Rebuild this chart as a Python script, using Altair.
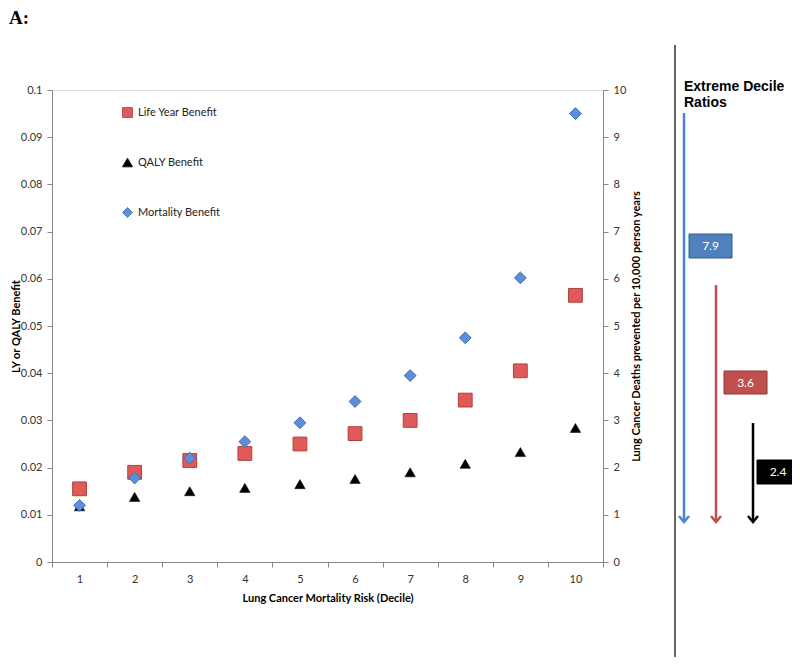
import altair as alt
import pandas as pd

# ---- data ----
deciles = [1, 2, 3, 4, 5, 6, 7, 8, 9, 10]
life_year = [0.0155, 0.0190, 0.0215, 0.0230, 0.0250, 0.0272, 0.0300, 0.0343, 0.0405, 0.0565]
qaly = [0.0118, 0.0138, 0.0150, 0.0157, 0.0165, 0.0176, 0.0190, 0.0208, 0.0233, 0.0284]
mortality = [1.20, 1.78, 2.20, 2.55, 2.95, 3.40, 3.95, 4.75, 6.02, 9.50]

series_names = ["Life Year Benefit", "QALY Benefit", "Mortality Benefit"]
series_fill = ["#E05A5A", "#000000", "#5B8FD8"]
series_stroke = ["#B23E3E", "#000000", "#3D6FB5"]
series_shape = ["square", "triangle-up", "diamond"]

left_ticks = [0, 0.01, 0.02, 0.03, 0.04, 0.05, 0.06, 0.07, 0.08, 0.09, 0.1]
right_ticks = [0, 1, 2, 3, 4, 5, 6, 7, 8, 9, 10]

panel_title = "Extreme Decile Ratios"
ratio_labels = ["7.9", "3.6", "2.4"]
ratio_fill = ["#4F81BD", "#C0504D", "#000000"]
ratio_stroke = ["#385D8A", "#8C3836", "#000000"]
arrow_color = ["#4A86D0", "#C0504D", "#000000"]

FONT = "Lato"
W, H = 551, 472

ly_df = pd.DataFrame({"decile": deciles, "value": life_year, "series": series_names[0]})
q_df = pd.DataFrame({"decile": deciles, "value": qaly, "series": series_names[1]})
m_df = pd.DataFrame({"decile": deciles, "value": mortality, "series": series_names[2]})

x_enc = alt.X(
    "decile:O",
    scale=alt.Scale(paddingInner=0, paddingOuter=0),
    axis=alt.Axis(
        title="Lung Cancer Mortality Risk (Decile)",
        labelAngle=0,
        tickBand="extent",
        domainColor="#868686",
        tickColor="#868686",
        tickSize=5,
        labelPadding=6,
        labelFont=FONT,
        labelFontSize=11,
        labelColor="#333333",
        titleFont=FONT,
        titleFontSize=11,
        titleFontWeight="bold",
        titleColor="#000000",
        titlePadding=8,
    ),
)

color_enc = alt.Color(
    "series:N",
    scale=alt.Scale(domain=series_names, range=series_fill),
    legend=alt.Legend(
        title=None,
        orient="none",
        legendX=70,
        legendY=17,
        rowPadding=36,
        symbolSize=100,
        labelFont=FONT,
        labelFontSize=11,
        labelColor="#222222",
        labelOffset=5,
        symbolStrokeWidth=0.8,
    ),
)
shape_enc = alt.Shape("series:N", scale=alt.Scale(domain=series_names, range=series_shape))
stroke_enc = alt.Stroke("series:N", scale=alt.Scale(domain=series_names, range=series_stroke))

left_axis = alt.Axis(
    values=left_ticks,
    format="~g",
    grid=False,
    title="LY or QALY Benefit",
    titleX=-31,
    titleY=236,
    titleAngle=270,
    titleAlign="center",
    titleBaseline="bottom",
    domainColor="#868686",
    tickColor="#868686",
    tickSize=5,
    labelPadding=5,
    labelFont=FONT,
    labelFontSize=11,
    labelColor="#333333",
    titleFont=FONT,
    titleFontSize=11,
    titleFontWeight="bold",
    titleColor="#000000",
)
right_axis = alt.Axis(
    orient="right",
    values=right_ticks,
    grid=False,
    title="Lung Cancer Deaths prevented per 10,000 person years",
    titleAngle=270,
    domainColor="#868686",
    tickColor="#868686",
    tickSize=5,
    labelPadding=5,
    labelFont=FONT,
    labelFontSize=11,
    labelColor="#333333",
    titleFont=FONT,
    titleFontSize=11,
    titleFontWeight="bold",
    titleColor="#000000",
    titlePadding=16,
)

left_scale = alt.Scale(domain=[0, 0.1], nice=False)
right_scale = alt.Scale(domain=[0, 10], nice=False)

ly_layer = alt.Chart(ly_df).mark_point(filled=True, size=190, strokeWidth=1, opacity=1).encode(
    x=x_enc, y=alt.Y("value:Q", scale=left_scale, axis=left_axis),
    color=color_enc, shape=shape_enc, stroke=stroke_enc,
)
q_layer = alt.Chart(q_df).mark_point(filled=True, size=110, strokeWidth=0.5, opacity=1).encode(
    x=x_enc, y=alt.Y("value:Q", scale=left_scale, axis=left_axis),
    color=color_enc, shape=shape_enc, stroke=stroke_enc,
)
left = alt.layer(ly_layer, q_layer)

right = alt.Chart(m_df).mark_point(filled=True, size=140, strokeWidth=1, opacity=1).encode(
    x=x_enc, y=alt.Y("value:Q", scale=right_scale, axis=right_axis),
    color=color_enc, shape=shape_enc, stroke=stroke_enc,
)

main = alt.layer(left, right).resolve_scale(y="independent")

# ---- right-hand annotation panel (positions in pixels from the plot origin) ----
one = pd.DataFrame({"k": [0]})

divider = alt.Chart(one).mark_rule(color="#333333", strokeWidth=1.5).encode(
    x=alt.value(623), y=alt.value(-45), y2=alt.value(575)
)
panel_txt = alt.Chart(one).mark_text(
    text=panel_title.replace("Decile ", "Decile\n"), lineBreak="\n", align="left", baseline="top",
    font="Liberation Sans", fontSize=14, fontWeight="bold", lineHeight=16, color="#000000",
).encode(x=alt.value(632), y=alt.value(-10))

arrow_x = [632, 664, 701]
arrow_top = [23, 195, 333]
arrow_bot = 432
box_x = [(637, 680), (672, 715), (705, 747)]
box_y = [(144, 168), (281, 304), (370, 394)]

layers = [main, divider, panel_txt]
for i in range(3):
    layers.append(
        alt.Chart(one).mark_rule(color=arrow_color[i], strokeWidth=2.5).encode(
            x=alt.value(arrow_x[i]), y=alt.value(arrow_top[i]), y2=alt.value(arrow_bot)
        )
    )
    layers.append(
        alt.Chart(one).mark_point(
            shape="M-1,-1L0,0.2L1,-1", filled=False, size=100, strokeWidth=2.5,
            color=arrow_color[i], opacity=1,
        ).encode(x=alt.value(arrow_x[i]), y=alt.value(arrow_bot - 1))
    )
    layers.append(
        alt.Chart(one).mark_rect(fill=ratio_fill[i], stroke=ratio_stroke[i], strokeWidth=1).encode(
            x=alt.value(box_x[i][0]), x2=alt.value(box_x[i][1]),
            y=alt.value(box_y[i][0]), y2=alt.value(box_y[i][1]),
        )
    )
    layers.append(
        alt.Chart(one).mark_text(
            text=ratio_labels[i], color="#FFFFFF", font=FONT, fontSize=12, align="center", baseline="middle"
        ).encode(
            x=alt.value((box_x[i][0] + box_x[i][1]) / 2),
            y=alt.value((box_y[i][0] + box_y[i][1]) / 2),
        )
    )

panel_label = alt.Chart(one).mark_text(
    text="A:", align="left", baseline="top", font="Liberation Serif", fontSize=19,
    fontWeight="bold", color="#000000",
).encode(x=alt.value(-43), y=alt.value(-81))
layers.append(panel_label)

chart = alt.layer(*layers).properties(
    width=W,
    height=H,
    autosize=alt.AutoSizeParams(type="none"),
    padding={"left": 44, "top": 82, "right": 189, "bottom": 95},
).configure_view(stroke=None).configure(background="#FFFFFF")

chart.save("out.html", embed_options={"renderer": "svg", "actions": False})
